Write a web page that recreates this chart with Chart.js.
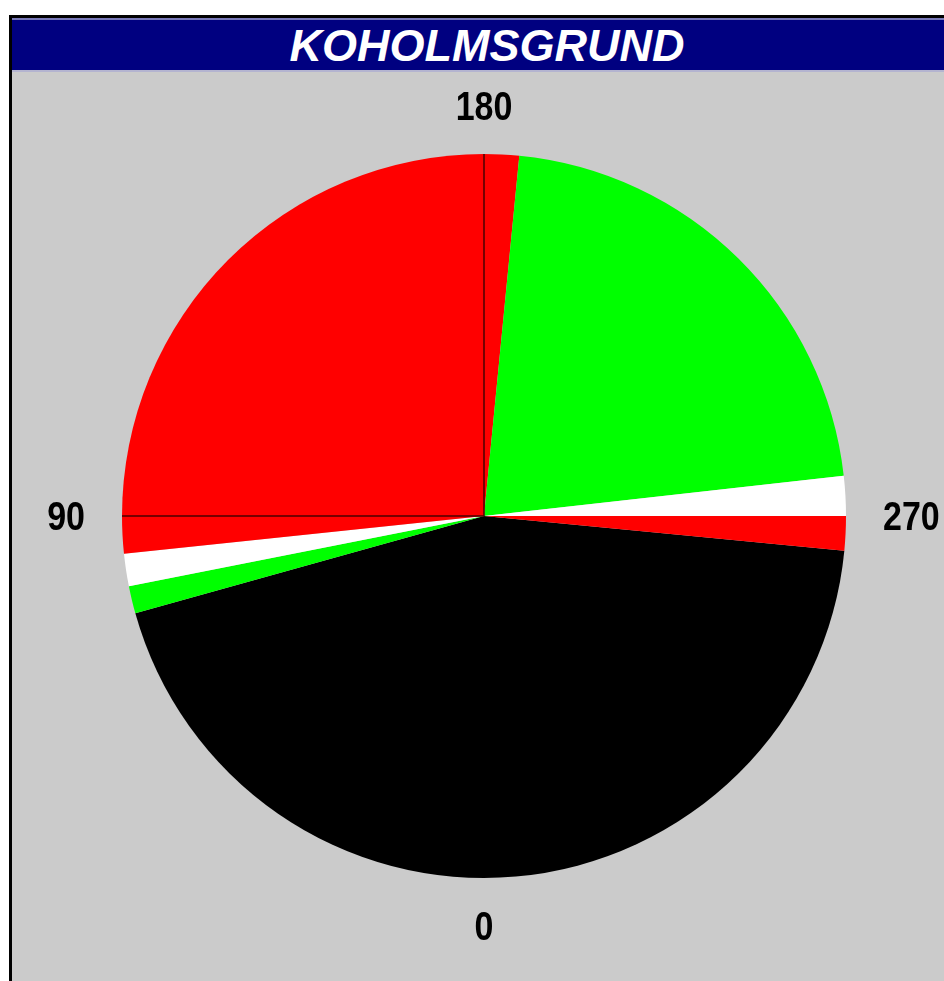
<!DOCTYPE html>
<html>
<head>
<meta charset="utf-8">
<script src="https://cdn.jsdelivr.net/npm/chart.js@4.4.1/dist/chart.umd.min.js"></script>
<style>
    html, body { margin: 0; padding: 0; background: #ffffff; overflow: hidden; }
    body { width: 944px; height: 981px; position: relative; }
    #frame {
        position: absolute; left: 9px; top: 15px; width: 950px; height: 980px;
        border-left: 3px solid #000; border-top: 3px solid #000;
        background: #cbcbcb;
    }
    #title {
        height: 50px; background: #000080;
        border-top: 2px solid #7878b8; border-bottom: 2px solid #b4b4d0;
        color: #fff; text-align: center;
        font: italic bold 45px "Liberation Sans", Arial, sans-serif;
        line-height: 52px;
    }
    #chart { position: absolute; left: 0; top: 0; }
</style>
</head>
<body>
<div id="frame"><div id="title">KOHOLMSGRUND</div></div>
<canvas id="chart" width="944" height="981"></canvas>
<script>
// Light sectors, bearings in degrees (0 at bottom, clockwise)
var sectorFrom = [275.5, 74.4, 78.8, 84, 90, 180, 185.6, 263.6, 270];
var sectorTo   = [74.4, 78.8, 84, 90, 180, 185.6, 263.6, 270, 275.5];
var sectorColors = ['#000000', '#00ff00', '#ffffff', '#ff0000', '#ff0000', '#ff0000', '#00ff00', '#ffffff', '#ff0000'];
var sectorNames = ['Mörkt', 'Grönt', 'Vitt', 'Rött', 'Rött', 'Rött', 'Grönt', 'Vitt', 'Rött'];

// radial division lines and bearing labels
var dividerBearings = [90, 180];
var tickBearings = [0, 90, 180, 270];
var tickLabels = ['0', '90', '180', '270'];

var spans = sectorFrom.map(function(f, i) {
    return ((sectorTo[i] - f) + 360) % 360;
});

function toAngle(b) {
    return (b + 90) * Math.PI / 180;
}

var compassPlugin = {
    id: 'compass',
    afterDatasetsDraw: function(chart) {
        var arc = chart.getDatasetMeta(0).data[0];
        var cx = arc.x, cy = arc.y, r = arc.outerRadius;
        var ctx = chart.ctx;
        ctx.save();
        ctx.strokeStyle = '#4a0000';
        ctx.lineWidth = 1.5;
        dividerBearings.forEach(function(b) {
            var a = toAngle(b);
            ctx.beginPath();
            ctx.moveTo(cx, cy);
            ctx.lineTo(cx + Math.cos(a) * r, cy + Math.sin(a) * r);
            ctx.stroke();
        });
        ctx.fillStyle = '#000';
        ctx.font = 'bold 40px "Liberation Sans", Arial, sans-serif';
        ctx.textBaseline = 'middle';
        tickBearings.forEach(function(b, i) {
            var a = toAngle(b);
            var dx = Math.cos(a), dy = Math.sin(a);
            var x, y;
            if (Math.abs(dx) > 0.5) {
                ctx.textAlign = dx < 0 ? 'right' : 'left';
                x = cx + dx * (r + 37);
                y = cy + 3;
            } else {
                ctx.textAlign = 'center';
                x = cx;
                y = cy + dy * (r + (dy < 0 ? 45 : 51));
            }
            // labels in the original are a narrow face
            ctx.save();
            ctx.translate(x, y);
            ctx.scale(0.85, 1);
            ctx.fillText(tickLabels[i], 0, 0);
            ctx.restore();
        });
        ctx.restore();
    }
};

new Chart(document.getElementById('chart').getContext('2d'), {
    type: 'pie',
    data: {
        labels: sectorNames,
        datasets: [{
            data: spans,
            backgroundColor: sectorColors,
            borderWidth: 0,
            hoverOffset: 0,
            offset: 0
        }]
    },
    options: {
        responsive: false,
        animation: false,
        events: [],
        rotation: (180 + sectorFrom[0]) % 360,
        radius: 362,
        layout: {
            padding: { left: 122, right: 98, top: 154, bottom: 103 }
        },
        plugins: {
            legend: { display: false },
            tooltip: { enabled: false },
            title: { display: false }
        }
    },
    plugins: [compassPlugin]
});
</script>
</body>
</html>
